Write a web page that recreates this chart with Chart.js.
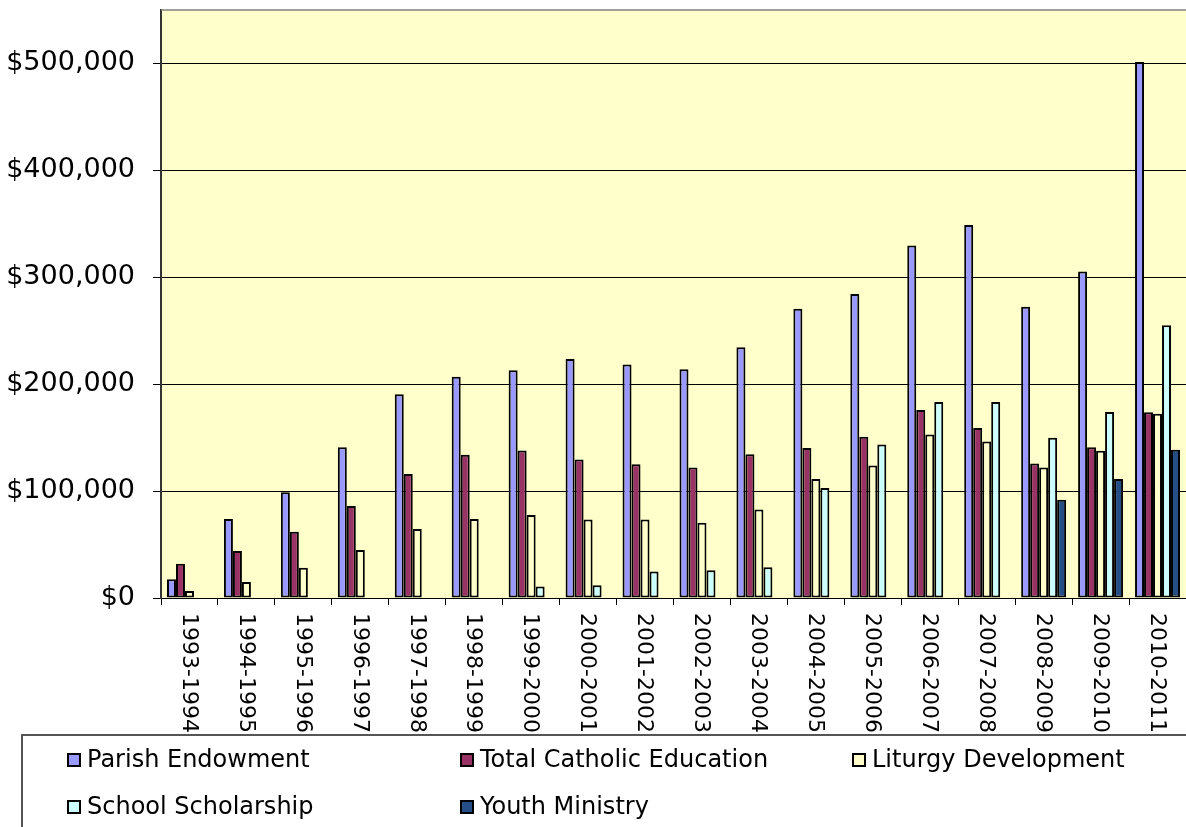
<!DOCTYPE html>
<html><head><meta charset="utf-8">
<script src="https://cdn.jsdelivr.net/npm/chart.js@4/dist/chart.umd.min.js"></script>
<style>html,body{margin:0;padding:0;background:#fff;overflow:hidden}#wrap{width:1186px;height:827px;position:relative}</style>
</head><body><div id="wrap"><canvas id="c" width="1186" height="827"></canvas></div>
<script>
const categories = ["1993-1994","1994-1995","1995-1996","1996-1997","1997-1998","1998-1999","1999-2000","2000-2001","2001-2002","2002-2003","2003-2004","2004-2005","2005-2006","2006-2007","2007-2008","2008-2009","2009-2010","2010-2011"];
const seriesNames = ["Parish Endowment","Total Catholic Education","Liturgy Development","School Scholarship","Youth Ministry"];
const parishEndowment = [17500,74000,99000,141000,190600,207000,213000,223500,218500,214000,234500,270500,284300,329700,349000,272500,305500,501400];
const totalCatholicEducation = [32000,44000,62000,86000,116000,134000,138000,129500,125000,122000,134500,140400,150800,175800,159000,125900,141000,173700];
const liturgyDevelopment = [6600,15000,28400,45000,64500,74000,77700,73400,73400,70500,82800,111300,124000,152900,146300,122000,137700,172300];
const schoolScholarship = [null,null,null,null,null,null,10700,11900,24800,26000,28800,103000,143500,183400,183400,149800,174000,255200];
const youthMinistry = [null,null,null,null,null,null,null,null,null,null,null,null,null,null,null,91900,111300,138700];
const yTickValues = [0,100000,200000,300000,400000,500000];
const seriesColors = ["#9999FF","#993366","#FFFFCC","#CCFFFF","#264E86"];

const FONT = '"DejaVu Sans", Verdana, sans-serif';
const seriesValues = [parishEndowment,totalCatholicEducation,liturgyDevelopment,schoolScholarship,youthMinistry];

const bgPlugin = {
  id:'bgPlugin',
  beforeDraw(chart){
    const {ctx, chartArea:a} = chart;
    ctx.save();
    ctx.fillStyle = '#FFFFCC';
    ctx.fillRect(a.left, a.top, a.right - a.left, a.bottom - a.top);
    ctx.restore();
  },
  afterDraw(chart){
    const {ctx, chartArea:a} = chart;
    const xs = chart.scales.x;
    ctx.save();
    ctx.strokeStyle = '#808080'; ctx.lineWidth = 1.5;
    ctx.beginPath(); ctx.moveTo(a.left, a.top); ctx.lineTo(a.right, a.top); ctx.stroke();
    ctx.font = '22px ' + FONT; ctx.fillStyle = '#000';
    ctx.textAlign = 'left'; ctx.textBaseline = 'middle';
    chart.data.labels.forEach((lab, i) => {
      const x = xs.getPixelForValue(i);
      ctx.save(); ctx.translate(x - 1, a.bottom + 15); ctx.rotate(Math.PI/2);
      ctx.fillText(lab, 0, 0); ctx.restore();
    });
    ctx.strokeStyle = '#555'; ctx.lineWidth = 2;
    ctx.beginPath(); ctx.moveTo(22, 827); ctx.lineTo(22, 735); ctx.lineTo(1186, 735); ctx.stroke();
    const colX = [67, 460, 852], rowY = [760, 807];
    ctx.font = '24px ' + FONT; ctx.textBaseline = 'middle'; ctx.textAlign = 'left';
    chart.data.datasets.forEach((ds, i) => {
      const x = colX[i % 3], y = rowY[Math.floor(i / 3)];
      ctx.fillStyle = ds.backgroundColor;
      ctx.fillRect(x, y - 7, 14, 14);
      ctx.strokeStyle = '#000'; ctx.lineWidth = 2;
      ctx.strokeRect(x + 1, y - 6, 12, 12);
      ctx.fillStyle = '#000';
      ctx.fillText(ds.label, x + 20, y + 1);
    });
    ctx.restore();
  }
};

new Chart(document.getElementById('c'), {
  type: 'bar',
  data: {
    labels: categories,
    datasets: seriesNames.map((n, i) => ({
      label: n, data: seriesValues[i],
      backgroundColor: seriesColors[i], borderColor: '#000', borderWidth: 2, borderSkipped: false,
      categoryPercentage: 0.79, barPercentage: 1
    }))
  },
  options: {
    responsive: false, animation: false, devicePixelRatio: 1,
    layout: { padding: { top: 10, left: 0, right: 0, bottom: 0 } },
    plugins: { legend: { display: false }, tooltip: { enabled: false } },
    scales: {
      x: {
        grid: { display: true, drawOnChartArea: false, drawTicks: true, tickLength: 7, color: '#000', offset: true },
        border: { display: true, color: '#000', width: 1 },
        ticks: { display: true, color: 'rgba(0,0,0,0)', minRotation: 90, maxRotation: 90, autoSkip: false, padding: 0, font: { size: 10 } },
        afterFit(s){ s.height = 229; s.paddingLeft = 0; s.paddingRight = 0; }
      },
      y: {
        min: 0, max: 550000,
        grid: { color: '#000', lineWidth: 1, tickLength: 8, drawTicks: true },
        border: { display: true, color: '#333', width: 2 },
        ticks: { color: '#000', padding: 18, font: { family: FONT, size: 27 },
          callback: v => '$' + v.toLocaleString('en-US') },
        afterBuildTicks(s){ s.ticks = yTickValues.map(v => ({ value: v })); },
        afterFit(s){ s.width = 161; s.paddingTop = 0; s.paddingBottom = 0; }
      }
    }
  },
  plugins: [bgPlugin]
});
</script></body></html>
